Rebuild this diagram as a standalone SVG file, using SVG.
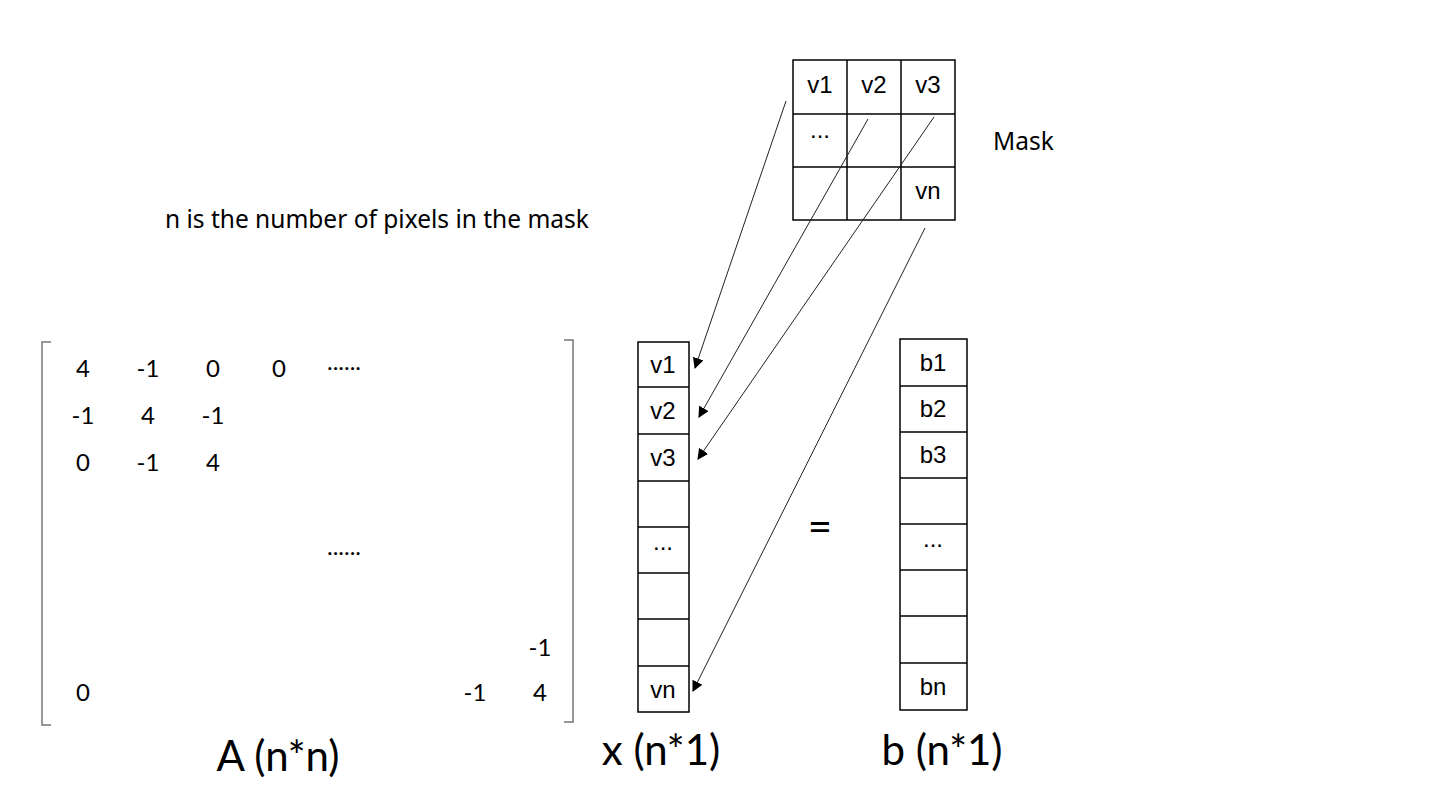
<svg xmlns="http://www.w3.org/2000/svg" width="1440" height="810" viewBox="0 0 1440 810">
<style>
.cell{fill:#fff;stroke:#000;stroke-width:1.5}
.cl{font-family:"Liberation Sans",Arial,sans-serif;font-size:24px;fill:#000;text-anchor:middle}
.m{font-family:Lato,"Open Sans",sans-serif;font-size:24px;fill:#000;text-anchor:middle}
.lab{font-family:Lato,"Open Sans",sans-serif;font-size:42px;fill:#000;text-anchor:middle}
.note{font-family:"Noto Sans",sans-serif;font-size:24.5px;fill:#000}
.br{fill:none;stroke:#777;stroke-width:1.5}
.con{stroke:#222;stroke-width:1;fill:none;marker-end:url(#ah)}
</style>
<defs>
<marker id="ah" viewBox="0 0 10 10" refX="9" refY="5" markerWidth="11" markerHeight="11" markerUnits="userSpaceOnUse" orient="auto">
<path d="M0,0 L10,5 L0,10 z" fill="#000"/>
</marker>
</defs>
<rect width="1440" height="810" fill="#fff"/>

<g id="mask">
<rect class="cell" x="793" y="60" width="162" height="160"/>
<line class="cell" x1="847" y1="60" x2="847" y2="220"/>
<line class="cell" x1="901" y1="60" x2="901" y2="220"/>
<line class="cell" x1="793" y1="114" x2="955" y2="114"/>
<line class="cell" x1="793" y1="167" x2="955" y2="167"/>
<text class="cl" x="820" y="93">v1</text>
<text class="cl" x="874" y="93">v2</text>
<text class="cl" x="928" y="93">v3</text>
<text class="cl" x="820" y="138">...</text>
<text class="cl" x="928" y="199">vn</text>
</g>
<g id="mask-label"><text class="note" x="993" y="150">Mask</text></g>
<g id="note"><text class="note" x="165" y="228">n is the number of pixels in the mask</text></g>

<g id="matrixA">
<path class="br" d="M51,342 L42,342 L42,725 L51,725"/>
<path class="br" d="M564,340 L573,340 L573,722 L564,722"/>
<text class="m" x="83" y="377">4</text>
<text class="m" x="148" y="377">-1</text>
<text class="m" x="213" y="377">0</text>
<text class="m" x="279" y="377">0</text>
<text class="m" x="344" y="370">......</text>
<text class="m" x="83" y="424">-1</text>
<text class="m" x="148" y="424">4</text>
<text class="m" x="213" y="424">-1</text>
<text class="m" x="83" y="471">0</text>
<text class="m" x="148" y="471">-1</text>
<text class="m" x="213" y="471">4</text>
<text class="m" x="344" y="555">......</text>
<text class="m" x="540" y="656">-1</text>
<text class="m" x="83" y="701">0</text>
<text class="m" x="475" y="701">-1</text>
<text class="m" x="540" y="701">4</text>
<text class="lab" x="278" y="771">A (n*n)</text>
</g>

<g id="vectorX">
<rect class="cell" x="638" y="342" width="51" height="370"/>
<line class="cell" x1="638" y1="387" x2="689" y2="387"/>
<line class="cell" x1="638" y1="434" x2="689" y2="434"/>
<line class="cell" x1="638" y1="481" x2="689" y2="481"/>
<line class="cell" x1="638" y1="527" x2="689" y2="527"/>
<line class="cell" x1="638" y1="573" x2="689" y2="573"/>
<line class="cell" x1="638" y1="619" x2="689" y2="619"/>
<line class="cell" x1="638" y1="666" x2="689" y2="666"/>
<text class="cl" x="663" y="373">v1</text>
<text class="cl" x="663" y="419">v2</text>
<text class="cl" x="663" y="466">v3</text>
<text class="cl" x="663" y="550">...</text>
<text class="cl" x="663" y="698">vn</text>
<text class="lab" x="661" y="765">x (n*1)</text>
</g>

<g id="equals"><text class="lab" x="820" y="541">=</text></g>

<g id="vectorB">
<rect class="cell" x="900" y="339" width="67" height="371"/>
<line class="cell" x1="900" y1="386" x2="967" y2="386"/>
<line class="cell" x1="900" y1="432" x2="967" y2="432"/>
<line class="cell" x1="900" y1="478" x2="967" y2="478"/>
<line class="cell" x1="900" y1="524" x2="967" y2="524"/>
<line class="cell" x1="900" y1="570" x2="967" y2="570"/>
<line class="cell" x1="900" y1="616" x2="967" y2="616"/>
<line class="cell" x1="900" y1="663" x2="967" y2="663"/>
<text class="cl" x="933" y="371">b1</text>
<text class="cl" x="933" y="417">b2</text>
<text class="cl" x="933" y="463">b3</text>
<text class="cl" x="933" y="547">...</text>
<text class="cl" x="933" y="695">bn</text>
<text class="lab" x="942" y="765">b (n*1)</text>
</g>

<g id="connectors">
<line class="con" x1="786" y1="101" x2="695" y2="368"/>
<line class="con" x1="868" y1="119" x2="699" y2="417"/>
<line class="con" x1="934" y1="117" x2="698" y2="459"/>
<line class="con" x1="925" y1="228" x2="693" y2="691"/>
</g>
</svg>
